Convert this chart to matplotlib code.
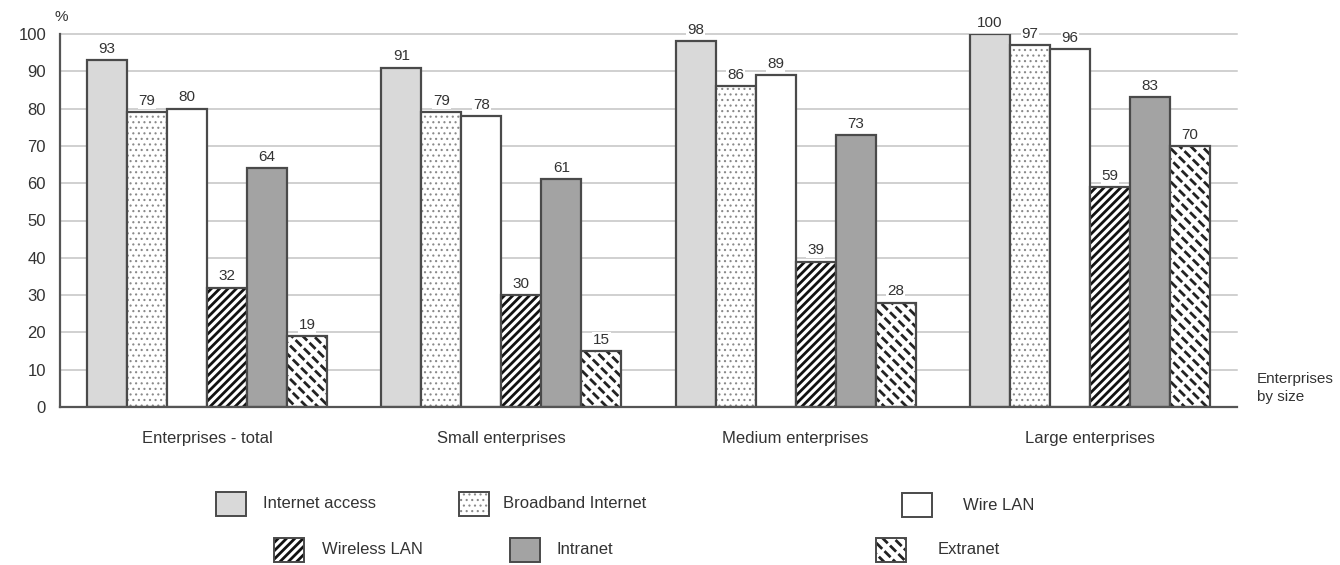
import matplotlib.pyplot as plt
import numpy as np
from matplotlib.patches import Rectangle

plt.rcParams['font.family'] = ['Liberation Sans Narrow', 'Liberation Sans', 'DejaVu Sans']

groups = ['Enterprises - total', 'Small enterprises', 'Medium enterprises', 'Large enterprises']
series = ['Internet access', 'Broadband Internet', 'Wire LAN', 'Wireless LAN', 'Intranet', 'Extranet']
internet = [93, 91, 98, 100]
broadband = [79, 79, 86, 97]
wire_lan = [80, 78, 89, 96]
wireless = [32, 30, 39, 59]
intranet = [64, 61, 73, 83]
extranet = [19, 15, 28, 70]
values = [internet, broadband, wire_lan, wireless, intranet, extranet]

EDGE = '#4a4a4a'
TXT = '#333333'

# fill styles: (face, hatch, hatch colour, hatch width, overlay hatch, overlay colour, overlay width)
styles = [
    ('#d9d9d9', None, None, 0, None, None, 0),
    ('white', '...', '#8a8a8a', 0.8, None, None, 0),
    ('white', None, None, 0, None, None, 0),
    ('white', '////', '#111111', 2.0, None, None, 0),
    ('#a3a3a3', None, None, 0, None, None, 0),
    ('white', '\\\\\\', '#222222', 2.0, '//', 'white', 2.3),
]


def add_fill(make, xy, w, h, st, edge_lw):
    face, hatch, hcol, hlw, ohatch, ocol, olw = st
    with plt.rc_context({'hatch.linewidth': max(hlw, 0.5)}):
        make(Rectangle(xy, w, h, facecolor=face, edgecolor=hcol if hatch else face,
                       hatch=hatch, linewidth=0))
    if ohatch:
        with plt.rc_context({'hatch.linewidth': olw}):
            make(Rectangle(xy, w, h, facecolor='none', edgecolor=ocol,
                           hatch=ohatch, linewidth=0))
    make(Rectangle(xy, w, h, facecolor='none', edgecolor=EDGE, linewidth=edge_lw))


fig = plt.figure(figsize=(13.4, 5.65), dpi=100)
ax = fig.add_axes([60 / 1340, 1 - 407 / 565, 1177 / 1340, 373 / 565])

x = np.arange(len(groups))
bw = 40 / 294.25
for i, (vals, st) in enumerate(zip(values, styles)):
    for gx, v in zip(x, vals):
        left = gx - 3 * bw + i * bw
        add_fill(ax.add_patch, (left, 0), bw, v, st, 1.6)
        ax.annotate(str(v), (left + bw / 2, v), xytext=(0, 3), textcoords='offset points',
                    ha='center', va='bottom', fontsize=11, color=TXT,
                    bbox=dict(facecolor='white', edgecolor='none', pad=0.5))

ax.set_xlim(-0.5, len(groups) - 0.5)
ax.set_ylim(0, 100)
ax.set_yticks(range(0, 101, 10))
ax.yaxis.grid(True, color='#c4c4c4', linewidth=1.1)
ax.set_axisbelow(True)
for gl in ax.get_ygridlines():
    gl.set_clip_on(False)
ax.set_xticks(x)
ax.set_xticklabels(groups)
ax.tick_params(axis='both', length=0, labelsize=12, colors=TXT)
ax.tick_params(axis='y', pad=10)
ax.tick_params(axis='x', pad=17)
for s in ['top', 'right']:
    ax.spines[s].set_visible(False)
for s in ['left', 'bottom']:
    ax.spines[s].set_color('#555555')
    ax.spines[s].set_linewidth(1.6)

fig.text(61 / 1340, 1 - 17 / 565, '%', ha='center', va='center', fontsize=11, color=TXT)
fig.text(1257 / 1340, 1 - 388 / 565, 'Enterprises\nby size', ha='left', va='center',
         fontsize=11, color=TXT, linespacing=1.35)

# legend in two staggered rows
leg_boxes = [(216, 492), (459, 492), (902, 493), (274, 538), (510, 538), (876, 538)]
leg_text_x = [263, 503, 963, 322, 557, 938]
for name, st, (bx, by), tx in zip(series, styles, leg_boxes, leg_text_x):
    def make(p):
        p.set_transform(fig.transFigure)
        fig.add_artist(p)
    add_fill(make, (bx / 1340, 1 - (by + 24) / 565), 30 / 1340, 24 / 565, st, 1.4)
    fig.text(tx / 1340, 1 - (by + 12) / 565, name, ha='left', va='center', fontsize=12, color=TXT)

fig.savefig('out.png', dpi=100)
